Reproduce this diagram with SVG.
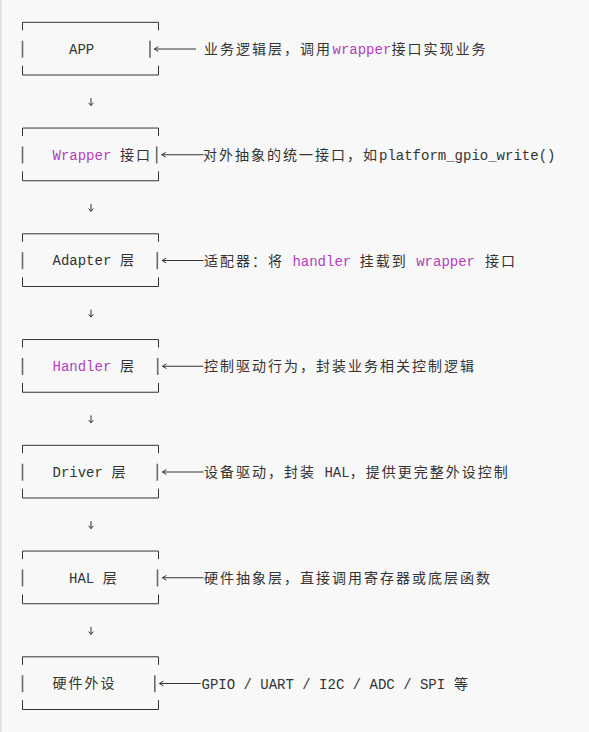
<svg xmlns="http://www.w3.org/2000/svg" width="589" height="732" viewBox="0 0 589 732">
<style>
  .bg{fill:#f8f8f8}
  .edge{fill:#dedede}
  .hl{fill:none;stroke:#333;stroke-width:1}
  .bar{fill:none;stroke:#6a6a6a;stroke-width:1.6}
  .con{fill:none;stroke:#333;stroke-width:1}
  text{font-size:14px;fill:#333;font-family:"Liberation Mono","Noto Sans CJK SC",monospace}
  .cjk{font-family:"Noto Sans CJK SC",sans-serif;letter-spacing:2px}
  .kw{fill:#b33fba}
</style>
<defs>
  <g id="frame">
    <path class="hl" d="M22.5,8 V0 H158.5 V8"/>
    <path class="hl" d="M22.5,43.4 V52.7 H158.5 V43.4"/>
    <line class="bar" x1="22.5" y1="18.4" x2="22.5" y2="35.4"/>
  </g>
</defs>
<rect class="bg" x="0" y="0" width="589" height="732"/>
<rect class="edge" x="0" y="0" width="1.5" height="732"/>

<g id="app" transform="translate(0,22.3)">
  <use href="#frame"/>
  <line class="bar" x1="150" y1="18.4" x2="150" y2="35.4"/>
  <text x="69" y="31.7">APP</text>
</g>
<g id="app-note">
  <text y="54"><tspan class="cjk" x="204">业务逻辑层，调用</tspan><tspan class="kw" x="332.5">wrapper</tspan><tspan class="cjk" x="391.5">接口实现业务</tspan></text>
</g>

<g id="wrapper" transform="translate(0,128.05)">
  <use href="#frame"/>
  <line class="bar" x1="156.7" y1="18.4" x2="156.7" y2="35.4"/>
  <text y="31.7"><tspan class="kw" x="52.5">Wrapper</tspan><tspan class="cjk" x="120">接口</tspan></text>
</g>
<g id="wrapper-note">
  <text y="159.75"><tspan class="cjk" x="203">对外抽象的统一接口，如</tspan><tspan x="379">platform_gpio_write()</tspan></text>
</g>

<g id="adapter" transform="translate(0,233.8)">
  <use href="#frame"/>
  <line class="bar" x1="157.3" y1="18.4" x2="157.3" y2="35.4"/>
  <text y="31.7"><tspan x="52.5">Adapter</tspan><tspan class="cjk" x="120">层</tspan></text>
</g>
<g id="adapter-note">
  <text y="265.5"><tspan class="cjk" x="204">适配器：将</tspan><tspan class="kw" x="292.4">handler</tspan><tspan class="cjk" x="359.8">挂载到</tspan><tspan class="kw" x="416.2">wrapper</tspan><tspan class="cjk" x="485">接口</tspan></text>
</g>

<g id="handler" transform="translate(0,339.55)">
  <use href="#frame"/>
  <line class="bar" x1="157.7" y1="18.4" x2="157.7" y2="35.4"/>
  <text y="31.7"><tspan class="kw" x="52.5">Handler</tspan><tspan class="cjk" x="120">层</tspan></text>
</g>
<g id="handler-note">
  <text y="371.25"><tspan class="cjk" x="204">控制驱动行为，封装业务相关控制逻辑</tspan></text>
</g>

<g id="driver" transform="translate(0,445.3)">
  <use href="#frame"/>
  <line class="bar" x1="157.3" y1="18.4" x2="157.3" y2="35.4"/>
  <text y="31.7"><tspan x="52.5">Driver</tspan><tspan class="cjk" x="111.5">层</tspan></text>
</g>
<g id="driver-note">
  <text y="477"><tspan class="cjk" x="204">设备驱动，封装</tspan><tspan x="324.4">HAL</tspan><tspan class="cjk" x="349.7">，提供更完整外设控制</tspan></text>
</g>

<g id="hal" transform="translate(0,551.05)">
  <use href="#frame"/>
  <line class="bar" x1="157.5" y1="18.4" x2="157.5" y2="35.4"/>
  <text y="31.7"><tspan x="69">HAL</tspan><tspan class="cjk" x="102.7">层</tspan></text>
</g>
<g id="hal-note">
  <text y="582.75"><tspan class="cjk" x="204">硬件抽象层，直接调用寄存器或底层函数</tspan></text>
</g>

<g id="hw" transform="translate(0,656.8)">
  <use href="#frame"/>
  <line class="bar" x1="154.8" y1="18.4" x2="154.8" y2="35.4"/>
  <text y="31.7"><tspan class="cjk" x="52.5">硬件外设</tspan></text>
</g>
<g id="hw-note">
  <text y="688.5"><tspan x="201.5">GPIO / UART / I2C / ADC / SPI</tspan><tspan class="cjk" x="454">等</tspan></text>
</g>

<g id="connectors">
  <!-- side arrows -->
  <path class="con" d="M196,49 H154.3 M158.3,46.6 L154.3,49 L158.3,51.4"/>
  <path class="con" d="M203.5,154.75 H161.7 M165.7,152.35 L161.7,154.75 L165.7,157.15"/>
  <path class="con" d="M203.5,260.5 H162.2 M166.2,258.1 L162.2,260.5 L166.2,262.9"/>
  <path class="con" d="M203.5,366.25 H162.5 M166.5,363.85 L162.5,366.25 L166.5,368.65"/>
  <path class="con" d="M203.5,472 H162.3 M166.3,469.6 L162.3,472 L166.3,474.4"/>
  <path class="con" d="M203.5,577.75 H162.4 M166.4,575.35 L162.4,577.75 L166.4,580.15"/>
  <path class="con" d="M200.7,683.5 H159.4 M163.4,681.1 L159.4,683.5 L163.4,685.9"/>
  <!-- down arrows -->
  <path class="con" d="M91,98.1 V105.6 M88.6,102.8 L91,105.6 L93.4,102.8"/>
  <path class="con" d="M91,203.85 V211.35 M88.6,208.55 L91,211.35 L93.4,208.55"/>
  <path class="con" d="M91,309.6 V317.1 M88.6,314.3 L91,317.1 L93.4,314.3"/>
  <path class="con" d="M91,415.35 V422.85 M88.6,420.05 L91,422.85 L93.4,420.05"/>
  <path class="con" d="M91,521.1 V528.6 M88.6,525.8 L91,528.6 L93.4,525.8"/>
  <path class="con" d="M91,626.85 V634.35 M88.6,631.55 L91,634.35 L93.4,631.55"/>
</g>
</svg>
